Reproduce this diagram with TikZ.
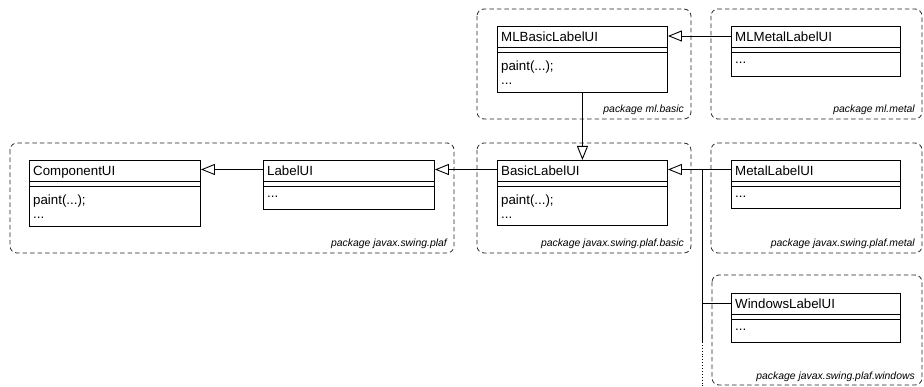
\documentclass[tikz,border=0pt]{standalone}
\usepackage{fontspec}
\setmainfont{Liberation Sans}
\usetikzlibrary{arrows.meta,calc}
\tikzset{
  pkgbox/.style={draw=black!85, line width=0.8pt, dash pattern=on 4.5pt off 3pt, rounded corners=7pt},
  pkglabel/.style={anchor=base east, inner sep=0pt, font=\fontsize{10.4}{12}\selectfont\itshape},
  clsbox/.style={draw=black, line width=0.9pt, rectangle, inner sep=0pt, fill=white},
  clstitle/.style={anchor=base west, inner sep=0pt, font=\fontsize{13.3}{15}\selectfont},
  clsbody/.style={anchor=base west, inner sep=0pt, font=\fontsize{13.3}{15}\selectfont},
  divline/.style={line width=0.9pt},
  conn/.style={line width=0.9pt},
  inh/.style={conn, -{Triangle[open, length=14pt, width=11pt, line width=0.9pt]}},
}
% class frame: name, x, y, width, height, title
\newcommand\umlframe[6]{%
  \node[clsbox, minimum width=#4pt, minimum height=#5pt, anchor=north west] (#1) at (#2,#3) {};
  \node[clstitle] (#1-t) at ([xshift=4pt,yshift=-15.5pt]#1.north west) {#6};
  \draw[divline] ([yshift=-21.5pt]#1.north west) -- ([yshift=-21.5pt]#1.north east);
  \draw[divline] ([yshift=-26pt]#1.north west) -- ([yshift=-26pt]#1.north east);
}
% class with paint(...); and ...
\newcommand\umlpaint[6]{%
  \umlframe{#1}{#2}{#3}{#4}{#5}{#6}
  \node[clsbody] (#1-b1) at ([xshift=4pt,yshift=-44.5pt]#1.north west) {paint(...);};
  \node[clsbody] (#1-b2) at ([xshift=4pt,yshift=-58.5pt]#1.north west) {...};
}
% class with only ...
\newcommand\umldots[6]{%
  \umlframe{#1}{#2}{#3}{#4}{#5}{#6}
  \node[clsbody] (#1-b1) at ([xshift=4pt,yshift=-37.5pt]#1.north west) {...};
}
\newcommand\pkg[6]{%
  \draw[pkgbox] (#2,#3) rectangle (#4,#5);
  \coordinate (#1-se) at (#4,#5);
  \node[pkglabel] (#1) at ([xshift=-7pt,yshift=6pt]#1-se) {package #6};
}
\begin{document}
\begin{tikzpicture}[x=1pt,y=-1pt]
\useasboundingbox (0,0) rectangle (924,387);
% packages
\pkg{pmlb}{477}{9}{691}{119}{ml.basic}
\pkg{pmlm}{711}{9}{922}{119}{ml.metal}
\pkg{pplaf}{10}{143}{454}{253}{javax.swing.plaf}
\pkg{pbas}{477}{143}{691}{253}{javax.swing.plaf.basic}
\pkg{pmet}{711}{143}{922}{253}{javax.swing.plaf.metal}
\pkg{pwin}{712}{275}{922}{385}{javax.swing.plaf.windows}
% classes
\umlpaint{mlb}{497}{26}{170}{66}{MLBasicLabelUI}
\umldots{mlm}{731}{26}{169}{50}{MLMetalLabelUI}
\umlpaint{comp}{29}{160}{171}{66}{ComponentUI}
\umldots{lab}{263}{160}{171}{49}{LabelUI}
\umlpaint{bas}{497}{160}{170}{65}{BasicLabelUI}
\umldots{met}{731}{160}{169}{48}{MetalLabelUI}
\umldots{win}{731}{293}{169}{49}{WindowsLabelUI}
% connectors
\draw[inh] ([yshift=-10pt]mlm.north west) -- ([yshift=-10pt]mlb.north east);
\draw[inh] (mlb.south) -- (bas.north);
\draw[inh] ([yshift=-9.5pt]lab.north west) -- ([yshift=-9.5pt]comp.north east);
\draw[inh] ([yshift=-9.5pt]bas.north west) -- ([yshift=-9.5pt]lab.north east);
\draw[inh] ([yshift=-9.5pt]met.north west) -- ([yshift=-9.5pt]bas.north east);
\coordinate (jt) at ($([yshift=-9.5pt]met.north west)+(-29,0)$);
\coordinate (wj) at ([yshift=-10pt]win.north west);
\coordinate (jm) at (jt |- {(0,342)});
\coordinate (jb) at (jt |- {(0,387)});
\draw[conn] (jt) -- (jm);
\draw[conn, dotted] (jm) -- (jb);
\draw[conn] (wj) -- (wj -| jt);
\end{tikzpicture}
\end{document}
